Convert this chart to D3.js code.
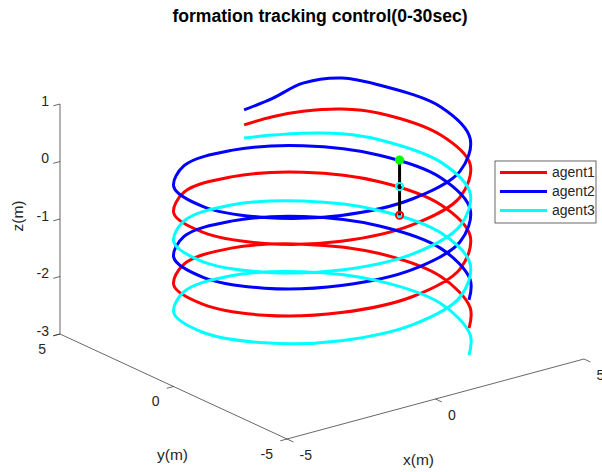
<!DOCTYPE html>
<html>
<head>
<meta charset="utf-8">
<script src="https://cdn.jsdelivr.net/npm/d3@7"></script>
<style>
html,body{margin:0;padding:0;background:#fff;}
svg{display:block;}
text{font-family:"Liberation Sans",Arial,Helvetica,sans-serif;fill:#262626;}
</style>
</head>
<body>
<svg id="chart" width="602" height="472"></svg>
<script>
// ---- data ----
const pathX = [0.42,1.24,2.00,2.83,3.46,4.00,3.46,2.00,0.00,-2.00,-3.46,-4.00,-3.46,-2.00,0.00,2.00,3.46,4.00,3.46,2.00,0.00,-2.00,-3.46,-4.00,-3.46,-2.00,0.00,2.00,3.46,4.00,3.46,2.68];
const pathY = [3.98,3.80,3.46,2.83,2.00,0.00,-2.00,-3.46,-4.00,-3.46,-2.00,0.00,2.00,3.46,4.00,3.46,2.00,0.00,-2.00,-3.46,-4.00,-3.46,-2.00,0.00,2.00,3.46,4.00,3.46,2.00,0.00,-2.00,-2.97];
const agent1Z = [0.07,0.13,0.18,0.22,0.21,0.12,0.05,-0.05,-0.15,-0.26,-0.36,-0.46,-0.57,-0.67,-0.78,-0.88,-0.98,-1.09,-1.19,-1.30,-1.40,-1.50,-1.61,-1.71,-1.82,-1.92,-2.02,-2.13,-2.23,-2.34,-2.44,-2.51];
const agent2Z = [0.33,0.45,0.67,0.76,0.70,0.61,0.50,0.40,0.30,0.19,0.09,-0.01,-0.11,-0.21,-0.32,-0.42,-0.52,-0.62,-0.73,-0.83,-0.93,-1.03,-1.14,-1.24,-1.34,-1.44,-1.55,-1.65,-1.75,-1.85,-1.95,-2.02];
const agent3Z = [-0.16,-0.19,-0.20,-0.21,-0.25,-0.35,-0.45,-0.55,-0.66,-0.76,-0.86,-0.97,-1.07,-1.17,-1.27,-1.38,-1.48,-1.58,-1.68,-1.79,-1.89,-1.99,-2.09,-2.20,-2.30,-2.40,-2.50,-2.61,-2.71,-2.81,-2.91,-2.98];
const seriesNames = ["agent1","agent2","agent3"];
const seriesColors = ["#ff0000","#0000ff","#00ffff"];
// formation markers (x, y, z) and their colours
const markerX = [3.72,3.72,3.72];
const markerY = [1.45,1.45,1.45];
const markerZ = [-0.54,-1.00,-1.50];
const markerColors = ["#00ff00","#00ffff","#ff0000"];
const xTicks = [-5,0,5];
const yTicks = [-5,0,5];
const zTicks = [-3,-2,-1,0,1];
const titleText = "formation tracking control(0-30sec)";

// ---- 3D axes as scales ----
const sx = d3.scaleLinear().domain([-5,5]).range([0,1]);
const sy = d3.scaleLinear().domain([5,-5]).range([0,1]);
const sz = d3.scaleLinear().domain([-3,1]).range([0,1]);
const O = [60,334], EX = [297,-80], EY = [227,105], EZ = [0,-230];
function proj(x,y,z){
  const u=sx(x), v=sy(y), w=sz(z);
  return [O[0]+u*EX[0]+v*EY[0]+w*EZ[0], O[1]+u*EX[1]+v*EY[1]+w*EZ[1]];
}
function unit(v){const l=Math.hypot(v[0],v[1]);return [v[0]/l,v[1]/l];}

const svg = d3.select("#chart");
const axisColor = "#262626";
const g = svg.append("g");

// axis lines
const axLines = [
  [proj(-5,5,-3), proj(-5,5,1)],
  [proj(-5,5,-3), proj(-5,-5,-3)],
  [proj(-5,-5,-3), proj(5,-5,-3)]
];
g.selectAll("line.ax").data(axLines).enter().append("line")
  .attr("x1",d=>d[0][0]).attr("y1",d=>d[0][1]).attr("x2",d=>d[1][0]).attr("y2",d=>d[1][1])
  .attr("stroke",axisColor).attr("stroke-width",0.7);

const tl = 7;
const dirX = unit([EY[0],EY[1]]);       // x-axis ticks point toward -y
const dirY = unit([-EX[0],-EX[1]]);     // y-axis ticks point toward -x
const dirZ = unit([-EX[0],-EX[1]]);
function tick(p,d){g.append("line").attr("x1",p[0]).attr("y1",p[1]).attr("x2",p[0]+d[0]*tl).attr("y2",p[1]+d[1]*tl).attr("stroke",axisColor).attr("stroke-width",0.7);}
const fs = 14;
xTicks.forEach(v=>{const p=proj(v,-5,-3);tick(p,dirX);
  g.append("text").attr("x",p[0]+12.5).attr("y",p[1]+16).attr("dy","0.35em").attr("font-size",fs).attr("text-anchor","start").text(v);});
yTicks.forEach(v=>{const p=proj(-5,v,-3);tick(p,dirY);
  g.append("text").attr("x",p[0]-14).attr("y",p[1]+15).attr("dy","0.35em").attr("font-size",fs).attr("text-anchor","end").text(v);});
zTicks.forEach(v=>{const p=proj(-5,5,v);tick(p,dirZ);
  g.append("text").attr("x",p[0]-11).attr("y",p[1]-3).attr("dy","0.35em").attr("font-size",fs).attr("text-anchor","end").text(v);});

// axis labels
const xl = proj(0,-5,-3), yl = proj(-5,0,-3), zl = proj(-5,5,-1);
g.append("text").attr("x",xl[0]-17).attr("y",xl[1]+61).attr("font-size",15.5).attr("text-anchor","middle").attr("dy","0.35em").text("x(m)");
g.append("text").attr("x",yl[0]-1).attr("y",yl[1]+68).attr("font-size",15.5).attr("text-anchor","middle").attr("dy","0.35em").text("y(m)");
g.append("text").attr("transform",`translate(${zl[0]-42},${zl[1]-3}) rotate(-90)`).attr("font-size",15.5).attr("text-anchor","middle").attr("dy","0.35em").text("z(m)");

// title
svg.append("text").attr("x",320).attr("y",16).attr("dy","0.35em").attr("text-anchor","middle")
  .attr("font-size",17.6).attr("font-weight","bold").style("fill","#000").text(titleText);

// trajectories
const zs = [agent1Z, agent2Z, agent3Z];
const line = d3.line().curve(d3.curveCatmullRom.alpha(0.5));
zs.forEach((Z,k)=>{
  const pts = pathX.map((x,i)=>proj(x,pathY[i],Z[i]));
  g.append("path").attr("d",line(pts)).attr("fill","none").attr("stroke",seriesColors[k]).attr("stroke-width",3).attr("stroke-linejoin","round");
});

// formation link & markers
const mp = markerX.map((x,i)=>proj(x,markerY[i],markerZ[i]));
g.append("line").attr("x1",mp[0][0]).attr("y1",mp[0][1]).attr("x2",mp[2][0]).attr("y2",mp[2][1]).attr("stroke","#000").attr("stroke-width",3);
mp.forEach((p,i)=>{
  g.append("circle").attr("cx",p[0]).attr("cy",p[1]).attr("r",3.6)
   .attr("fill", i===0 ? markerColors[i] : "none").attr("stroke",markerColors[i]).attr("stroke-width",2);
});

// legend
const lg = svg.append("g").attr("transform","translate(495,161)");
lg.append("rect").attr("width",101).attr("height",62).attr("fill","#fff").attr("stroke",axisColor).attr("stroke-width",0.7);
seriesNames.forEach((n,i)=>{
  const y = 11.5 + i*19;
  lg.append("line").attr("x1",5).attr("x2",52).attr("y1",y).attr("y2",y).attr("stroke",seriesColors[i]).attr("stroke-width",3);
  lg.append("text").attr("x",57).attr("y",y).attr("dy","0.35em").attr("font-size",fs).text(n);
});
</script>
</body>
</html>
